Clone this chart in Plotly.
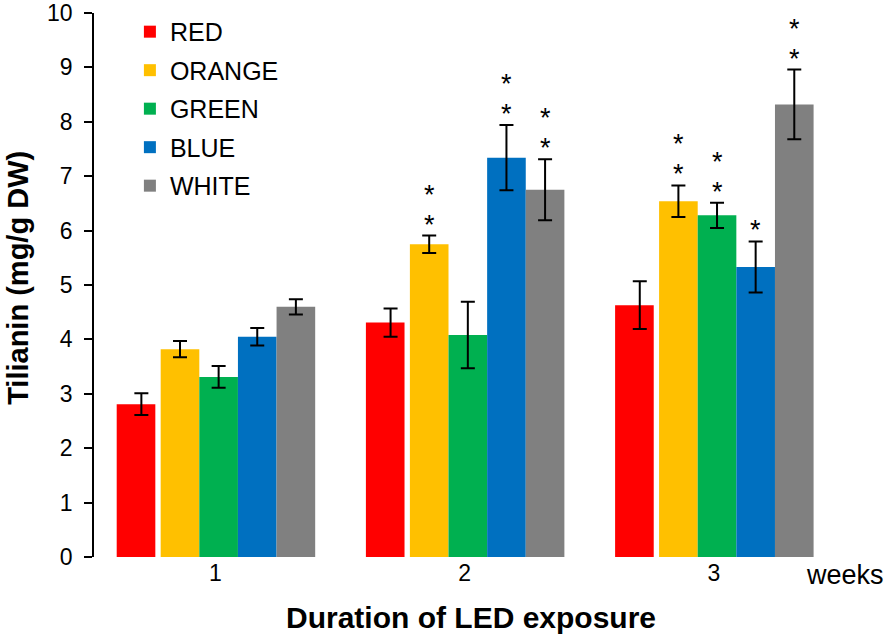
import plotly.graph_objects as go

weeks = [1, 2, 3]
week_labels = ["1", "2", "3"]
series = ["RED", "ORANGE", "GREEN", "BLUE", "WHITE"]
colors = ["#FF0000", "#FFC000", "#00B050", "#0070C0", "#808080"]

red = [2.81, 4.31, 4.63]
orange = [3.82, 5.75, 6.54]
green = [3.31, 4.08, 6.28]
blue = [4.05, 7.34, 5.33]
white = [4.60, 6.75, 8.32]

red_err = [0.20, 0.26, 0.44]
orange_err = [0.15, 0.16, 0.29]
green_err = [0.20, 0.61, 0.23]
blue_err = [0.16, 0.60, 0.47]
white_err = [0.14, 0.56, 0.64]

# number of significance asterisks per bar
red_stars = [0, 0, 0]
orange_stars = [0, 2, 2]
green_stars = [0, 0, 2]
blue_stars = [0, 2, 1]
white_stars = [0, 2, 2]

values = [red, orange, green, blue, white]
errors = [red_err, orange_err, green_err, blue_err, white_err]
stars = [red_stars, orange_stars, green_stars, blue_stars, white_stars]

# layout geometry (style)
BW = 0.155
slot_offsets = [-0.375, -0.22, -0.065, 0.09, 0.245]
bar_offsets = [-0.3965, -0.22, -0.065, 0.09, 0.245]

FONT = "Arial, Liberation Sans, sans-serif"

fig = go.Figure()
for i, name in enumerate(series):
    fig.add_trace(go.Bar(
        x=weeks, y=values[i], name=name, width=BW, offset=bar_offsets[i],
        marker=dict(color=colors[i], line=dict(width=0)),
        legendgroup=name,
    ))
for i, name in enumerate(series):
    # error bars drawn at the regular slot position
    fig.add_trace(go.Bar(
        x=weeks, y=values[i], width=BW, offset=slot_offsets[i],
        marker=dict(color="rgba(0,0,0,0)", line=dict(width=0)),
        error_y=dict(type="data", array=errors[i], color="black", thickness=2, width=7),
        showlegend=False, hoverinfo="skip",
    ))

annotations = []
for i in range(len(series)):
    for j, w in enumerate(weeks):
        for k in range(stars[i][j]):
            annotations.append(dict(
                x=w + slot_offsets[i] + BW / 2, y=values[i][j] + errors[i][j],
                xref="x", yref="y", text="*", showarrow=False,
                yanchor="middle", xanchor="center", yshift=11 + 30 * k,
                font=dict(family=FONT, size=27, color="black"),
            ))

annotations.append(dict(
    text="<b>Tilianin (mg/g DW)</b>", textangle=-90, xref="paper", yref="paper",
    x=-0.101, y=0.514, xanchor="center", yanchor="middle", showarrow=False,
    font=dict(family=FONT, size=29, color="black"),
))
annotations.append(dict(
    text="<b>Duration of LED exposure</b>", xref="paper", yref="paper",
    x=0.504, y=-0.112, xanchor="center", yanchor="middle", showarrow=False,
    font=dict(family=FONT, size=30, color="black"),
))
annotations.append(dict(
    text="weeks", xref="paper", yref="paper",
    x=0.949, y=-0.0335, xanchor="left", yanchor="middle", showarrow=False,
    font=dict(family=FONT, size=27, color="black"),
))

fig.update_layout(
    width=894, height=641,
    margin=dict(l=94, r=52, t=13, b=84, autoexpand=False),
    paper_bgcolor="white", plot_bgcolor="white",
    barmode="overlay",
    showlegend=True,
    legend=dict(x=0.048, y=1.0075, xanchor="left", yanchor="top",
                font=dict(family=FONT, size=25, color="black"),
                tracegroupgap=3, bgcolor="rgba(0,0,0,0)"),
    annotations=annotations,
    font=dict(family=FONT, color="black"),
)
fig.update_xaxes(
    range=[0.5124, 3.514], tickvals=weeks, ticktext=week_labels,
    showline=False, showgrid=False, zeroline=False, ticks="",
    ticklabelstandoff=0,
    tickfont=dict(size=23, color="black"), automargin=False,
)
fig.update_yaxes(
    range=[0, 10], dtick=1, showline=True, linecolor="black", linewidth=1.5,
    ticks="outside", ticklen=8, tickwidth=1.5, tickcolor="black",
    showgrid=False, zeroline=False, ticklabelstandoff=7,
    tickfont=dict(size=23, color="black"), automargin=False,
)

fig.write_html("out.html", config={"displayModeBar": False},
               post_script="document.body.style.margin='0';")
